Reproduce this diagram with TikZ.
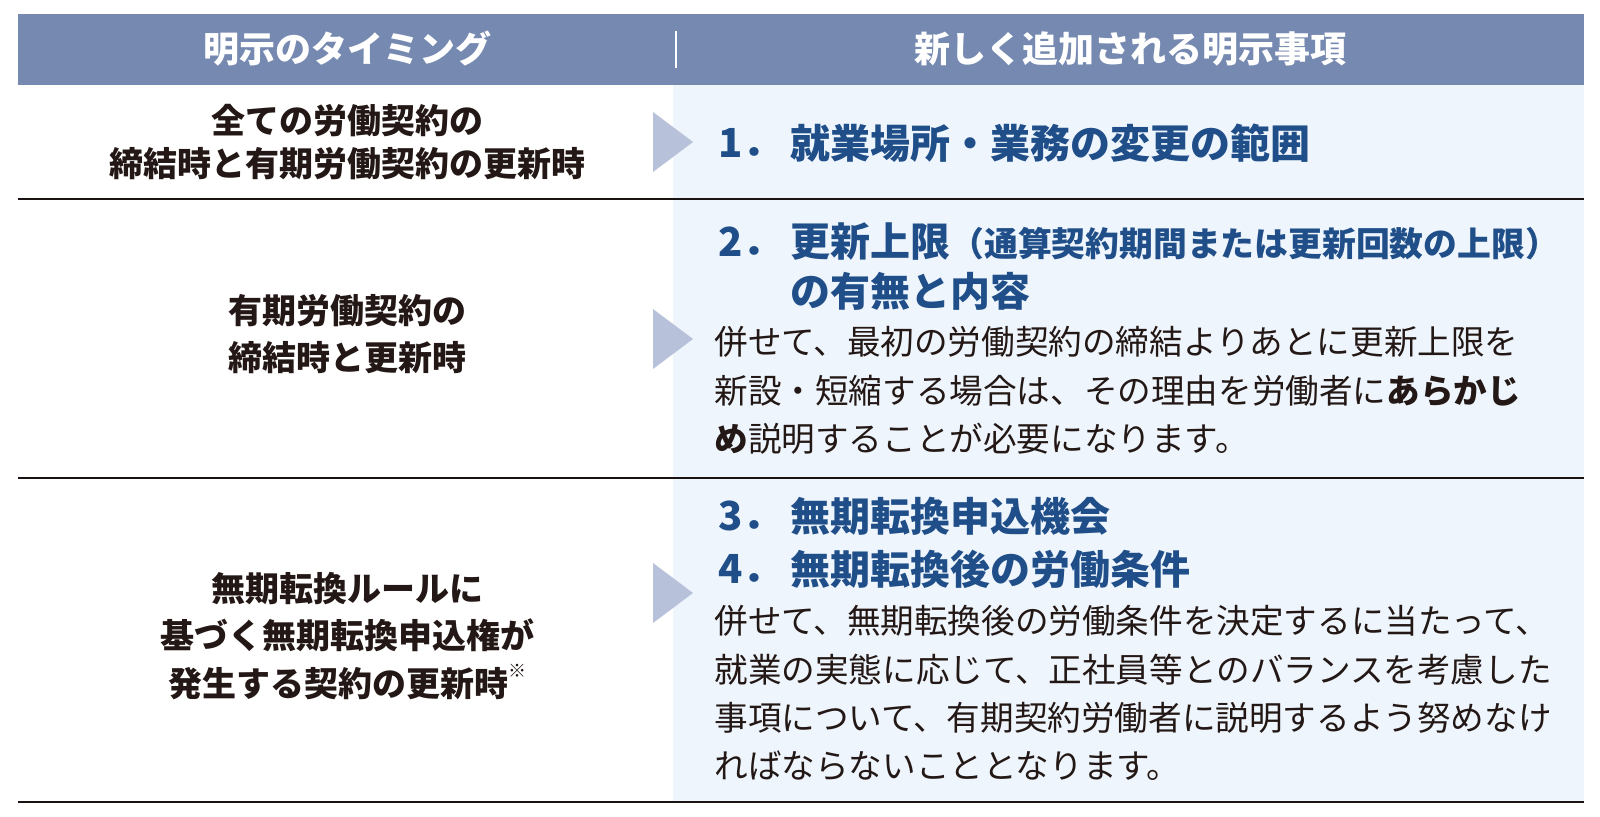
\documentclass[tikz,border=0pt]{standalone}
\usepackage{fontspec}
\newfontfamily\jpfont{Noto Sans CJK JP}

\definecolor{hdrblue}{RGB}{118,137,177}
\definecolor{panelblue}{RGB}{238,245,252}
\definecolor{markblue}{RGB}{184,193,218}
\definecolor{itemblue}{RGB}{31,78,137}
\definecolor{inkcol}{RGB}{35,24,21}
\definecolor{rulecol}{RGB}{26,19,17}

\begin{document}
\begin{tikzpicture}[
    x=0.5pt, y=-0.5pt,
    font=\jpfont,
    header/.style = {fill=hdrblue},
    headtext/.style = {inner sep=0pt, text=white, font=\jpfont\bfseries\fontsize{18}{22}\selectfont},
    panel/.style = {fill=panelblue},
    rowline/.style = {draw=rulecol, line width=1.3pt},
    marker/.style = {fill=markblue},
    timing/.style = {align=center, inner sep=0pt, text=inkcol, font=\jpfont\bfseries\fontsize{17}{23.8}\selectfont},
    num/.style = {anchor=west, inner sep=0pt, text=itemblue, font=\jpfont\bfseries\fontsize{20}{24}\selectfont},
    item/.style = {anchor=west, inner sep=0pt, text=itemblue, font=\jpfont\bfseries\fontsize{20}{24}\selectfont},
    note/.style = {anchor=north west, align=left, inner sep=0pt, text=inkcol, font=\jpfont\fontsize{16.8}{24.2}\selectfont}
]
\useasboundingbox (0,0) rectangle (1600,817);

% =========================================================
% BACKGROUND: header bar and light panel
% =========================================================
\fill[panel] (673,85) rectangle (1584,801);
\fill[header] (18,14) rectangle (1584,85);
\draw[white, line width=0.8pt] (676,31) -- (676,68);

\node[headtext] (hdrL) at (347,49) {明示のタイミング};
\node[headtext] (hdrR) at (1130,49) {新しく追加される明示事項};

% =========================================================
% ROW RULES
% =========================================================
\draw[rowline] (18,199) -- (1584,199);
\draw[rowline] (18,478) -- (1584,478);
\draw[rowline] (18,802) -- (1584,802);

% =========================================================
% LEFT COLUMN: timing
% =========================================================
\node[timing, font=\jpfont\bfseries\fontsize{17}{21.5}\selectfont] (timing1) at (347,142.5) {全ての労働契約の\\締結時と有期労働契約の更新時};
\node[timing] (timing2) at (347,334) {有期労働契約の\\締結時と更新時};
\node[timing] (timing3) at (347,636) {無期転換ルールに\\基づく無期転換申込権が\\発生する契約の更新時\raisebox{0.55em}{\fontsize{9}{9}\selectfont ※}};

% markers
\fill[marker] (653,112) -- (693,142) -- (653,172) -- cycle;
\fill[marker] (653,309) -- (693,339) -- (653,369) -- cycle;
\fill[marker] (653,563) -- (693,593) -- (653,623) -- cycle;

% =========================================================
% RIGHT COLUMN: items
% =========================================================
% row 1
\node[num] (num1) at (718,143) {1．};
\node[item] (item1) at (790,143) {就業場所・業務の変更の範囲};

% row 2
\node[num] (num2) at (718,242) {2．};
\node[item] (item2) at (790,242) {更新上限{\fontsize{16.9}{20}\selectfont （通算契約期間または更新回数の上限）}};
\node[item] (item2b) at (790,291) {の有無と内容};
\node[note] (note2) at (714,326) {併せて、最初の労働契約の締結よりあとに更新上限を\\新設・短縮する場合は、その理由を労働者に\textbf{あらかじ}\\\textbf{め}説明することが必要になります。};

% row 3
\node[num] (num3) at (718,516) {3．};
\node[item] (item3) at (790,516) {無期転換申込機会};
\node[num] (num4) at (718,569) {4．};
\node[item] (item4) at (790,569) {無期転換後の労働条件};
\node[note] (note3) at (714,605) {併せて、無期転換後の労働条件を決定するに当たって、\\就業の実態に応じて、正社員等とのバランスを考慮した\\事項について、有期契約労働者に説明するよう努めなけ\\ればならないこととなります。};

\end{tikzpicture}
\end{document}
